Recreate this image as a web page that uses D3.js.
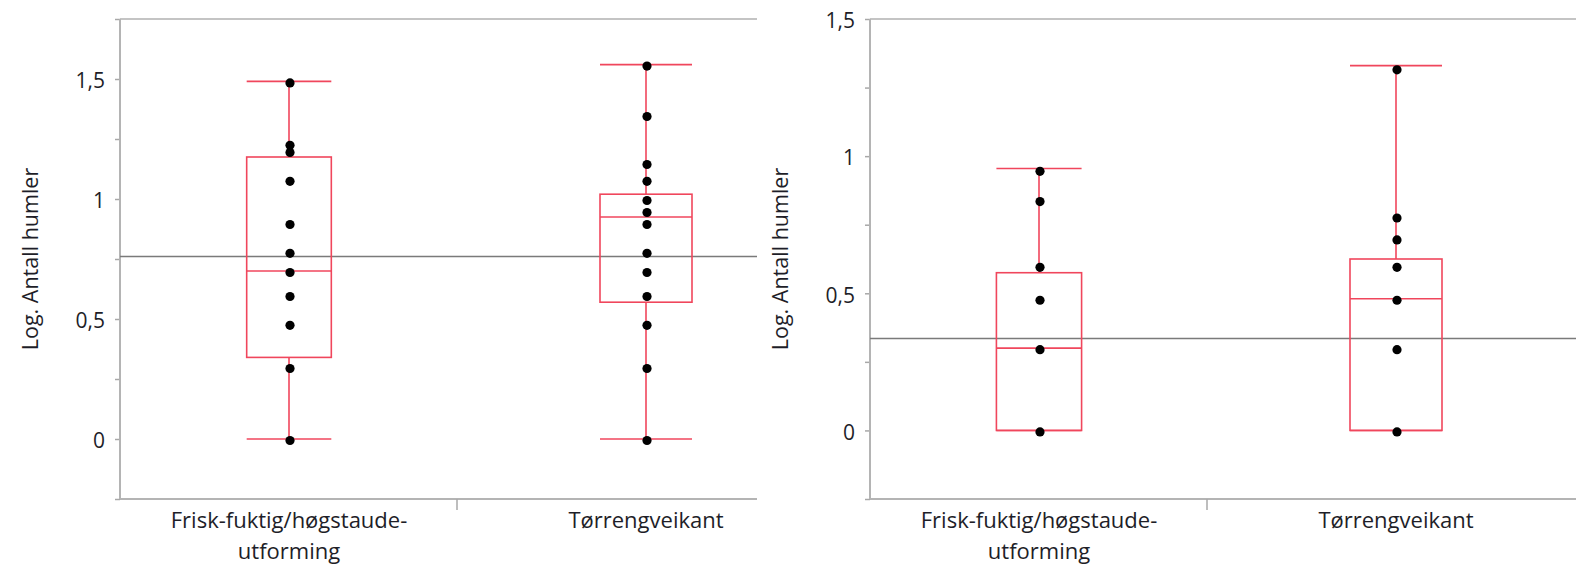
<!DOCTYPE html>
<html>
<head>
<meta charset="utf-8">
<script src="https://cdn.jsdelivr.net/npm/d3@7"></script>
<style>
  body { margin: 0; background: #fff; }
  svg text { font-family: "Open Sans", "Noto Sans", sans-serif; fill: #1e1e28; }
</style>
</head>
<body>
<svg id="chart" width="1576" height="570"></svg>
<script>
// categories and their two-line labels
const categories = ['Frisk-fuktig/høgstaude-utforming', 'Tørrengveikant'];
const categoryLines = [['Frisk-fuktig/høgstaude-', 'utforming'], ['Tørrengveikant']];
const yTitle = 'Log. Antall humler';

// left panel: log values of each observation
const pointsLeft = [
  [1.49, 1.23, 1.20, 1.08, 0.90, 0.78, 0.70, 0.60, 0.48, 0.30, 0],
  [1.56, 1.35, 1.15, 1.08, 1.00, 0.95, 0.90, 0.78, 0.70, 0.60, 0.48, 0.30, 0]
];
const lowLeft = [0, 0];
const q1Left = [0.34, 0.57];
const medianLeft = [0.70, 0.925];
const q3Left = [1.175, 1.02];
const highLeft = [1.49, 1.56];
const meanLeft = 0.76;
const domainLeft = [-0.25, 1.75];

// right panel
const pointsRight = [
  [0.95, 0.84, 0.60, 0.48, 0.30, 0],
  [1.32, 0.78, 0.70, 0.60, 0.48, 0.30, 0]
];
const lowRight = [0, 0];
const q1Right = [0, 0];
const medianRight = [0.30, 0.48];
const q3Right = [0.575, 0.625];
const highRight = [0.955, 1.33];
const meanRight = 0.335;
const domainRight = [-0.25, 1.5];

const red = '#f0465c';
const svg = d3.select('#chart');

function fmt(d) {
  return String(+d.toFixed(2)).replace('.', ',');
}

function drawPanel(p) {
  const g = svg.append('g');
  const y = d3.scaleLinear().domain(p.domain).range([p.y1, p.y0]);
  const x = d3.scalePoint().domain(categories).range([p.x0 + 169, p.x0 + 526]);
  const maxN = d3.max(p.points, d => d.length);
  const boxW = i => 92 * Math.sqrt(p.points[i].length / maxN);

  // y axis with quarter ticks, labels on halves
  const yAxis = d3.axisLeft(y)
    .tickValues(d3.range(p.domain[0], p.domain[1] + 0.01, 0.25))
    .tickSize(5)
    .tickPadding(10)
    .tickFormat(d => Math.abs(d * 2 - Math.round(d * 2)) < 1e-6 ? fmt(d) : '');
  const ya = g.append('g').attr('transform', `translate(${p.x0},0)`).call(yAxis);
  ya.select('.domain').remove();
  ya.selectAll('line').attr('stroke', '#a8a8a8').attr('stroke-width', 1.5);
  ya.selectAll('text').attr('font-size', 21).attr('dy', '0.42em').style('fill', '#1e1e28');

  // frame lines
  g.append('line').attr('x1', p.x0).attr('x2', p.x1).attr('y1', p.y0).attr('y2', p.y0)
    .attr('stroke', '#c4c4c4').attr('stroke-width', 2);
  g.append('line').attr('x1', p.x0).attr('x2', p.x0).attr('y1', p.y0).attr('y2', p.y1)
    .attr('stroke', '#b4b4b4').attr('stroke-width', 2);
  g.append('line').attr('x1', p.x0).attr('x2', p.x1).attr('y1', p.y1).attr('y2', p.y1)
    .attr('stroke', '#b4b4b4').attr('stroke-width', 2);

  // divider tick between the two categories
  g.append('line').attr('x1', p.x0 + 337).attr('x2', p.x0 + 337)
    .attr('y1', p.y1).attr('y2', p.y1 + 11)
    .attr('stroke', '#a8a8a8').attr('stroke-width', 1.5);

  // category labels
  categories.forEach((c, i) => {
    const t = g.append('text')
      .attr('x', x(c))
      .attr('y', p.y1 + 29)
      .attr('text-anchor', 'middle')
      .attr('font-size', 22);
    categoryLines[i].forEach((line, j) => {
      t.append('tspan').attr('x', x(c)).attr('dy', j === 0 ? 0 : 31).text(line);
    });
  });

  // y title
  g.append('text')
    .attr('transform', `translate(${p.x0 - 82},${(p.y0 + p.y1) / 2}) rotate(-90)`)
    .attr('text-anchor', 'middle')
    .attr('font-size', 21.5)
    .text(yTitle);

  // grand mean line
  g.append('line').attr('x1', p.x0).attr('x2', p.x1)
    .attr('y1', y(p.mean)).attr('y2', y(p.mean))
    .attr('stroke', '#7a7a7a').attr('stroke-width', 1.5);

  // boxes and whiskers
  const boxes = g.selectAll('g.box')
    .data(categories)
    .enter()
    .append('g')
    .attr('class', 'box');

  boxes.append('line')
    .attr('x1', d => x(d)).attr('x2', d => x(d))
    .attr('y1', (d, i) => y(p.high[i])).attr('y2', (d, i) => y(p.q3[i]))
    .attr('stroke', red).attr('stroke-width', 1.6);
  boxes.append('line')
    .attr('x1', d => x(d)).attr('x2', d => x(d))
    .attr('y1', (d, i) => y(p.q1[i])).attr('y2', (d, i) => y(p.low[i]))
    .attr('stroke', red).attr('stroke-width', 1.6);
  ['high', 'low'].forEach(k => {
    boxes.append('line')
      .attr('x1', (d, i) => x(d) - boxW(i) / 2).attr('x2', (d, i) => x(d) + boxW(i) / 2)
      .attr('y1', (d, i) => y(p[k][i])).attr('y2', (d, i) => y(p[k][i]))
      .attr('stroke', red).attr('stroke-width', 1.6);
  });
  boxes.append('rect')
    .attr('x', (d, i) => x(d) - boxW(i) / 2)
    .attr('width', (d, i) => boxW(i))
    .attr('y', (d, i) => y(p.q3[i]))
    .attr('height', (d, i) => y(p.q1[i]) - y(p.q3[i]))
    .attr('fill', 'none').attr('stroke', red).attr('stroke-width', 1.6);
  boxes.append('line')
    .attr('x1', (d, i) => x(d) - boxW(i) / 2).attr('x2', (d, i) => x(d) + boxW(i) / 2)
    .attr('y1', (d, i) => y(p.median[i])).attr('y2', (d, i) => y(p.median[i]))
    .attr('stroke', red).attr('stroke-width', 1.6);

  // observations
  categories.forEach((c, i) => {
    g.selectAll(null)
      .data(p.points[i])
      .enter()
      .append('circle')
      .attr('cx', x(c) + 1)
      .attr('cy', d => y(d) + 1.5)
      .attr('r', 4.6)
      .attr('fill', '#000');
  });
}

drawPanel({
  x0: 120, x1: 757, y0: 19, y1: 499,
  domain: domainLeft, points: pointsLeft,
  low: lowLeft, q1: q1Left, median: medianLeft, q3: q3Left, high: highLeft,
  mean: meanLeft
});

drawPanel({
  x0: 870, x1: 1576, y0: 19, y1: 499,
  domain: domainRight, points: pointsRight,
  low: lowRight, q1: q1Right, median: medianRight, q3: q3Right, high: highRight,
  mean: meanRight
});
</script>
</body>
</html>
